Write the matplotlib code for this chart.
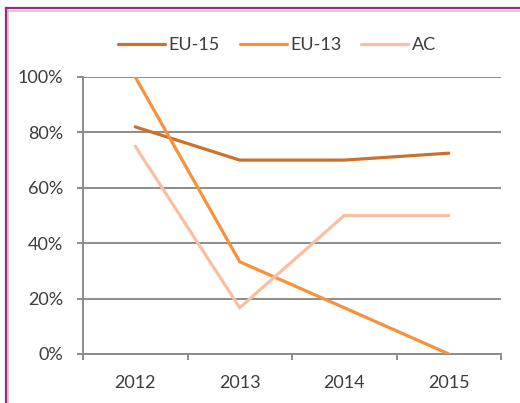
import matplotlib
matplotlib.use("Agg")
import matplotlib.pyplot as plt
from matplotlib.lines import Line2D
from matplotlib.ticker import FixedLocator

years = ["2012", "2013", "2014", "2015"]
eu15 = [82, 70, 70, 72.5]
eu13 = [100, 33.3, 16.7, 0]
ac = [75, 16.7, 50, 50]
series_names = ["EU-15", "EU-13", "AC"]
series_colors = ["#C9722D", "#F7913A", "#F9BFA1"]
y_ticks = [0, 20, 40, 60, 80, 100]

plt.rcParams["font.family"] = ["Lato", "DejaVu Sans"]
text_color = "#3C3C3C"
grid_color = "#8C8C8C"

fig = plt.figure(figsize=(5.2, 4.03), dpi=100)
ax = fig.add_axes([83 / 520, 1 - 354 / 403, (501 - 83) / 520, (354 - 77) / 403])

x = list(range(len(years)))
for vals, name, col in zip([eu15, eu13, ac], series_names, series_colors):
    ax.plot(x, vals, color=col, lw=2.3, label=name, solid_capstyle="round",
            solid_joinstyle="miter", zorder=3)

ax.set_xlim(-0.5, len(years) - 0.5)
ax.set_ylim(0, 100)
ax.set_yticks(y_ticks)
ax.set_yticklabels([f"{v}%" for v in y_ticks])
ax.set_xticks(x)
ax.set_xticklabels(years)
ax.xaxis.set_minor_locator(FixedLocator([i - 0.5 for i in range(len(years) + 1)]))

ax.grid(axis="y", color=grid_color, lw=1.4, zorder=0)
ax.set_axisbelow(True)
for s in ["top", "right"]:
    ax.spines[s].set_visible(False)
for s in ["left", "bottom"]:
    ax.spines[s].set_color(grid_color)
    ax.spines[s].set_linewidth(1.4)

ax.tick_params(axis="y", length=4, width=1.4, color=grid_color, pad=10.5,
               labelsize=13, labelcolor=text_color)
ax.tick_params(axis="x", which="major", length=0, pad=15,
               labelsize=13, labelcolor=text_color)
ax.tick_params(axis="x", which="minor", length=4, width=1.4, color=grid_color)

leg = fig.legend(loc="center", bbox_to_anchor=(277 / 520, 1 - 45 / 403), ncol=3,
                 frameon=False, fontsize=13, handlelength=2.6, handletextpad=0.2,
                 columnspacing=1.1, labelcolor=text_color)

# frame along the left and top edges
fig.add_artist(Line2D([7.5 / 520, 7.5 / 520], [0, 1 - 10 / 403], transform=fig.transFigure,
                      color="#C8C8C8", lw=1.2))
fig.add_artist(Line2D([7.5 / 520, 1], [1 - 10.5 / 403, 1 - 10.5 / 403], transform=fig.transFigure,
                      color="#C8C8C8", lw=1.2))
fig.add_artist(Line2D([6 / 520, 6 / 520], [0, 1 - 8 / 403], transform=fig.transFigure,
                      color="#9E2A86", lw=1.6, solid_capstyle="projecting"))
fig.add_artist(Line2D([6 / 520, 1], [1 - 8 / 403, 1 - 8 / 403], transform=fig.transFigure,
                      color="#9E2A86", lw=1.6, solid_capstyle="projecting"))

fig.savefig("out.png", dpi=100, facecolor="white")
